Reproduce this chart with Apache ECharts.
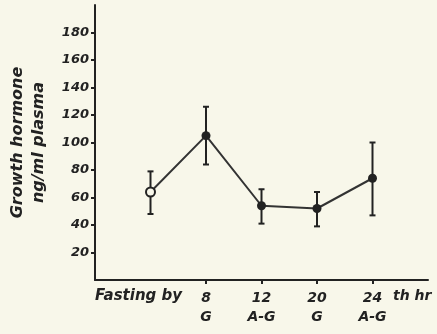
<!DOCTYPE html>
<html>
<head>
<meta charset="utf-8">
<script src="https://cdn.jsdelivr.net/npm/echarts@6/dist/echarts.min.js"></script>
<style>
  html, body { margin: 0; padding: 0; background: #f8f7ea; }
  #chart { width: 437px; height: 334px; }
</style>
</head>
<body>
<div id="chart"></div>
<script>
// hours of fasting (first slot = baseline, last slot = blank end of axis)
var xLabels = ['', '', '8\nG', '12\nA-G', '20\nG', '24\nA-G', ''];
var means = [null, 64, 105, 54, 52, 74, null];
var upper = [null, 79, 126, 66, 64, 100, null];
var lower = [null, 48, 84, 41, 39, 47, null];
var yTicks = [20, 40, 60, 80, 100, 120, 140, 160, 180];

var ink = '#222';
var bg = '#f8f7ea';
var font = '"DejaVu Sans", sans-serif';

var chart = echarts.init(document.getElementById('chart'), null, { renderer: 'canvas' });

var lineData = means.map(function (v, i) {
    if (i === 1) {
        return { value: v, itemStyle: { color: bg, borderColor: ink, borderWidth: 2 } };
    }
    return v;
});

var errData = [];
for (var i = 0; i < means.length; i++) {
    if (means[i] != null) errData.push([i, lower[i], upper[i]]);
}

var option = {
    backgroundColor: bg,
    animation: false,
    grid: { left: 95, right: 9, top: 5, bottom: 54, outerBoundsMode: 'none' },
    xAxis: {
        type: 'category',
        data: xLabels,
        boundaryGap: false,
        axisLine: { lineStyle: { color: ink, width: 2 } },
        axisTick: {
            show: true,
            length: 4,
            alignWithLabel: true,
            interval: function (idx) { return idx >= 2 && idx <= 5; },
            lineStyle: { color: ink, width: 2 }
        },
        axisLabel: {
            interval: 0,
            margin: 9,
            color: ink,
            fontFamily: font,
            fontStyle: 'italic',
            fontWeight: 'bold',
            fontSize: 14,
            lineHeight: 19
        },
        splitLine: { show: false }
    },
    yAxis: {
        type: 'value',
        min: 0,
        max: 200,
        interval: 20,
        name: 'Growth hormone\nng/ml plasma',
        nameLocation: 'middle',
        nameRotate: 90,
        nameGap: 46,
        nameTextStyle: {
            color: ink,
            fontFamily: font,
            fontStyle: 'italic',
            fontWeight: 'bold',
            fontSize: 16,
            lineHeight: 21
        },
        axisLine: { show: true, lineStyle: { color: ink, width: 2 } },
        axisTick: {
            show: true,
            length: 4,
            customValues: yTicks,
            lineStyle: { color: ink, width: 2 }
        },
        axisLabel: {
            customValues: yTicks,
            margin: 6,
            color: ink,
            fontFamily: font,
            fontStyle: 'italic',
            fontWeight: 'bold',
            fontSize: 13
        },
        splitLine: { show: false }
    },
    graphic: [
        {
            type: 'text',
            left: 95, top: 289,
            style: {
                text: 'Fasting by',
                fill: ink,
                font: 'italic bold 15px ' + font
            }
        },
        {
            type: 'text',
            left: 393, top: 289,
            style: {
                text: 'th hr',
                fill: ink,
                font: 'italic bold 14px ' + font
            }
        }
    ],
    series: [
        {
            type: 'custom',
            data: errData,
            z: 3,
            renderItem: function (params, api) {
                var x = api.value(0);
                var lo = api.coord([x, api.value(1)]);
                var hi = api.coord([x, api.value(2)]);
                var w = 3;
                var st = { stroke: ink, lineWidth: 2 };
                return {
                    type: 'group',
                    children: [
                        { type: 'line', shape: { x1: hi[0], y1: hi[1], x2: lo[0], y2: lo[1] }, style: st },
                        { type: 'line', shape: { x1: hi[0] - w, y1: hi[1], x2: hi[0] + w, y2: hi[1] }, style: st },
                        { type: 'line', shape: { x1: lo[0] - w, y1: lo[1], x2: lo[0] + w, y2: lo[1] }, style: st }
                    ]
                };
            }
        },
        {
            type: 'line',
            data: lineData,
            z: 4,
            symbol: 'circle',
            symbolSize: 9,
            showAllSymbol: true,
            itemStyle: { color: ink },
            lineStyle: { color: '#333', width: 2 }
        }
    ]
};

chart.setOption(option);
</script>
</body>
</html>
